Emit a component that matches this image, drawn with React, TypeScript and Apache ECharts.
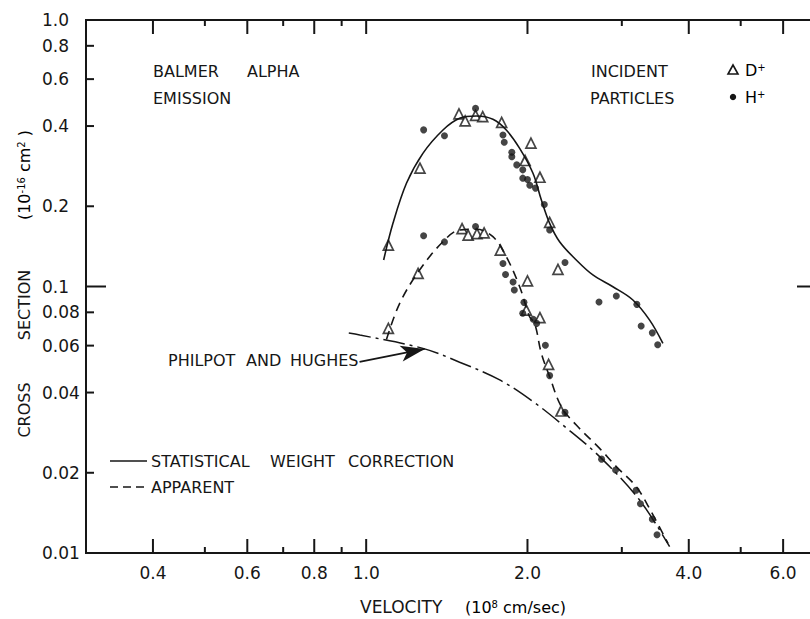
import React, { useEffect, useRef } from "react";
import * as echarts from "echarts";

// Velocity axis (10^8 cm/sec) and cross-section axis (10^-16 cm^2)
const xMajorTicks = [0.4, 0.6, 0.8, 1.0, 2.0, 4.0, 6.0];
const xMinorTicks = [0.5, 0.7, 0.9, 3.0, 5.0];
const yLabelValues = [0.01, 0.02, 0.04, 0.06, 0.08, 0.1, 0.2, 0.4, 0.6, 0.8, 1.0];
const yShortTicks = [0.02, 0.04, 0.06, 0.08, 0.2, 0.4, 0.6, 0.8];
const yLongTicks = [0.1];

// D+ measurements, statistical weight correction
const dCorrV = [1.10, 1.26, 1.49, 1.53, 1.60, 1.65, 1.79, 1.98, 2.03, 2.11, 2.20, 2.28];
const dCorrC = [0.143, 0.278, 0.444, 0.418, 0.439, 0.434, 0.413, 0.297, 0.345, 0.257, 0.174, 0.116];

// H+ measurements, statistical weight correction
const hCorrV = [1.28, 1.40, 1.60, 1.80, 1.81, 1.87, 1.87, 1.91, 1.96, 1.96, 2.00, 2.02, 2.07, 2.15, 2.20, 2.35, 2.72, 2.93, 3.20, 3.26, 3.42, 3.50];
const hCorrC = [0.387, 0.368, 0.466, 0.370, 0.348, 0.319, 0.307, 0.286, 0.274, 0.255, 0.252, 0.240, 0.234, 0.203, 0.163, 0.123, 0.0875, 0.0921, 0.0857, 0.0711, 0.067, 0.0605];

// D+ measurements, apparent
const dAppV = [1.10, 1.25, 1.51, 1.55, 1.61, 1.66, 1.78, 2.00, 1.99, 2.11, 2.19, 2.31];
const dAppC = [0.0697, 0.112, 0.165, 0.156, 0.158, 0.159, 0.137, 0.105, 0.0816, 0.0764, 0.051, 0.0341];

// H+ measurements, apparent
const hAppV = [1.28, 1.40, 1.60, 1.80, 1.82, 1.88, 1.89, 1.97, 1.96, 2.05, 2.08, 2.16, 2.20, 2.35, 2.75, 2.92, 3.19, 3.25, 3.42, 3.49];
const hAppC = [0.155, 0.147, 0.168, 0.122, 0.111, 0.104, 0.097, 0.0872, 0.0794, 0.0753, 0.0727, 0.0602, 0.0463, 0.0337, 0.0225, 0.0205, 0.0172, 0.0153, 0.0134, 0.0117];

// Fitted curves
const corrCurveV = [1.078, 1.122, 1.189, 1.276, 1.391, 1.494, 1.606, 1.724, 1.826, 1.934, 2.048, 2.123, 2.20, 2.296, 2.467, 2.649, 2.887, 3.146, 3.381, 3.579];
const corrCurveC = [0.1257, 0.1726, 0.2439, 0.316, 0.3867, 0.4277, 0.4362, 0.424, 0.3867, 0.330, 0.266, 0.2112, 0.1726, 0.1473, 0.1257, 0.1105, 0.0998, 0.089, 0.0748, 0.0612];

const appCurveV = [1.091, 1.155, 1.258, 1.391, 1.494, 1.606, 1.724, 1.826, 1.934, 2.018, 2.063, 2.123, 2.20, 2.313, 2.467, 2.727, 2.929, 3.192, 3.404, 3.658];
const appCurveC = [0.0633, 0.0865, 0.1153, 0.1473, 0.163, 0.1639, 0.1538, 0.1294, 0.0998, 0.077, 0.0727, 0.0561, 0.0459, 0.0354, 0.0302, 0.0247, 0.0211, 0.01773, 0.01429, 0.01087];

// Philpot and Hughes
const phCurveV = [0.928, 0.973, 1.276, 1.494, 1.775, 2.048, 2.329, 2.727, 3.238, 3.684];
const phCurveC = [0.0669, 0.0658, 0.0586, 0.052, 0.0446, 0.037, 0.0302, 0.023, 0.0158, 0.01056];

// Annotation arrow (from label to curve)
const arrowV = [0.972, 1.286];
const arrowC = [0.0521, 0.0583];

const X_MIN = 0.3;
const X_MAX = 7;
const Y_MIN = 0.01;
const Y_MAX = 1.0;

const CHART_W = 830;
const CHART_H = 619;

const INK = "#161616";
const FONT = "DejaVu Sans";

const zip = (a: number[], b: number[]) => a.map((v, i) => [v, b[i]]);

const fmt = (v: number) => {
  const r = Number(Number(v).toPrecision(2));
  return r >= 1 ? r.toFixed(1) : String(r);
};

const txt = (x: number, y: number, text: string, size = 16) => ({
  type: "text",
  x,
  y,
  style: { text, fill: INK, font: `${size}px "${FONT}"`, align: "left", verticalAlign: "middle" },
});

const vtxt = (y: number, text: string, rich?: any) => ({
  type: "text",
  x: 24,
  y,
  rotation: Math.PI / 2,
  style: rich
    ? { text, rich, align: "center", verticalAlign: "middle" }
    : { text, fill: INK, font: `16px "${FONT}"`, align: "center", verticalAlign: "middle" },
});

const supRich = {
  t: { fontSize: 16, fontFamily: FONT, color: INK },
  s: { fontSize: 10, fontFamily: FONT, color: INK, verticalAlign: "top" },
};

const labelGraphics = [
  txt(153, 71, "BALMER"),
  txt(247, 71, "ALPHA"),
  txt(153, 98, "EMISSION"),
  txt(591, 71, "INCIDENT"),
  txt(590, 98, "PARTICLES"),
  {
    type: "polygon",
    shape: { points: [[733, 65], [728, 74], [738, 74]] },
    style: { fill: "#fff", stroke: INK, lineWidth: 1.6 },
  },
  { type: "text", x: 745, y: 70, style: { text: "{t|D}{s|+}", rich: supRich, align: "left", verticalAlign: "middle" } },
  { type: "circle", shape: { cx: 733, cy: 97, r: 3.2 }, style: { fill: INK } },
  { type: "text", x: 745, y: 97, style: { text: "{t|H}{s|+}", rich: supRich, align: "left", verticalAlign: "middle" } },
  txt(168, 360, "PHILPOT"),
  txt(246, 360, "AND"),
  txt(290, 360, "HUGHES"),
  { type: "line", shape: { x1: 110, y1: 461, x2: 147, y2: 461 }, style: { stroke: INK, lineWidth: 1.6 } },
  txt(151, 461, "STATISTICAL"),
  txt(270, 461, "WEIGHT"),
  txt(348, 461, "CORRECTION"),
  { type: "line", shape: { x1: 110, y1: 487, x2: 147, y2: 487 }, style: { stroke: INK, lineWidth: 1.6, lineDash: [8, 5] } },
  txt(151, 487, "APPARENT"),
  txt(360, 607, "VELOCITY", 17),
  {
    type: "text",
    x: 465,
    y: 607,
    style: {
      text: "{t|(10}{s|8}{t|\u00a0cm/sec)}",
      rich: supRich,
      align: "left",
      verticalAlign: "middle",
    },
  },
  vtxt(410, "CROSS"),
  vtxt(305, "SECTION"),
  vtxt(175, "{t|(10}{s|-16}{t|\u00a0cm}{s|2}{t|\u00a0)}", supRich),
];

export default function App() {
  const ref = useRef<HTMLDivElement>(null);

  useEffect(() => {
    if (!ref.current) return;
    const chart = echarts.init(ref.current, undefined, { renderer: "svg" });

    chart.setOption({
      animation: false,
      backgroundColor: "#ffffff",
      grid: {
        left: 86,
        top: 20,
        right: 11,
        bottom: 66,
        show: true,
        borderColor: INK,
        borderWidth: 2,
        backgroundColor: "transparent",
      },
      xAxis: {
        type: "log",
        logBase: 10,
        min: X_MIN,
        max: X_MAX,
        splitLine: { show: false },
        minorTick: { show: false },
        axisLine: { show: false },
        axisTick: { show: false },
        axisLabel: { customValues: xMajorTicks, formatter: fmt, margin: 11, color: INK, fontSize: 17, fontFamily: FONT },
      },
      yAxis: {
        type: "log",
        logBase: 10,
        min: Y_MIN,
        max: Y_MAX,
        splitLine: { show: false },
        minorTick: { show: false },
        axisLine: { show: false },
        axisTick: { show: false },
        axisLabel: { customValues: yLabelValues, formatter: fmt, margin: 44, align: "left", color: INK, fontSize: 17, fontFamily: FONT },
      },
      series: [
        {
          name: "STATISTICAL WEIGHT CORRECTION",
          type: "line",
          data: zip(corrCurveV, corrCurveC),
          smooth: 0.35,
          showSymbol: false,
          lineStyle: { color: INK, width: 1.6 },
        },
        {
          name: "APPARENT",
          type: "line",
          data: zip(appCurveV, appCurveC),
          smooth: 0.35,
          showSymbol: false,
          lineStyle: { color: INK, width: 1.6, type: [9, 6] },
        },
        {
          name: "PHILPOT AND HUGHES",
          type: "line",
          data: zip(phCurveV, phCurveC),
          smooth: 0.35,
          showSymbol: false,
          lineStyle: { color: INK, width: 1.5, type: [22, 5, 3, 5] },
          markLine: {
            symbol: ["none", "arrow"],
            symbolSize: [12, 24],
            label: { show: false },
            lineStyle: { color: INK, width: 1.8, type: "solid" },
            itemStyle: { color: INK },
            data: [[{ coord: [arrowV[0], arrowC[0]] }, { coord: [arrowV[1], arrowC[1]] }]],
          },
        },
        {
          name: "D+ corrected",
          type: "scatter",
          data: zip(dCorrV, dCorrC),
          symbol: "triangle",
          symbolSize: 10,
          itemStyle: { color: "#ffffff", borderColor: INK, borderWidth: 1.7 },
        },
        {
          name: "D+ apparent",
          type: "scatter",
          data: zip(dAppV, dAppC),
          symbol: "triangle",
          symbolSize: 10,
          itemStyle: { color: "#ffffff", borderColor: INK, borderWidth: 1.7 },
        },
        {
          name: "H+ corrected",
          type: "scatter",
          data: zip(hCorrV, hCorrC),
          symbol: "circle",
          symbolSize: 7,
          itemStyle: { color: INK },
        },
        {
          name: "H+ apparent",
          type: "scatter",
          data: zip(hAppV, hAppC),
          symbol: "circle",
          symbolSize: 7,
          itemStyle: { color: INK },
        },
      ],
    });

    // Inward frame ticks, positioned through the chart's own scales
    const toPx = (v: number[]) => chart.convertToPixel({ gridIndex: 0 }, v) as number[];
    const tickLine = (x1: number, y1: number, x2: number, y2: number) => ({
      type: "line",
      z: 50,
      shape: { x1, y1, x2, y2 },
      style: { stroke: INK, lineWidth: 2 },
    });
    const ticks: any[] = [];
    const addX = (vals: number[], len: number) =>
      vals.forEach((v) => {
        const b = toPx([v, Y_MIN]);
        const t = toPx([v, Y_MAX]);
        ticks.push(tickLine(b[0], b[1], b[0], b[1] - len));
        ticks.push(tickLine(t[0], t[1], t[0], t[1] + len));
      });
    const addY = (vals: number[], leftLen: number, rightLen: number) =>
      vals.forEach((v) => {
        const l = toPx([X_MIN, v]);
        const r = toPx([X_MAX, v]);
        ticks.push(tickLine(l[0], l[1], l[0] + leftLen, l[1]));
        ticks.push(tickLine(r[0], r[1], r[0] - rightLen, r[1]));
      });
    addX(xMajorTicks, 14);
    addX(xMinorTicks, 6);
    addY(yShortTicks, 8, 9);
    addY(yLongTicks, 20, 22);

    chart.setOption({ graphic: [...labelGraphics, ...ticks] });

    return () => chart.dispose();
  }, []);

  return (
    <div style={{ position: "fixed", left: 0, top: 0, width: 810, height: 619, overflow: "hidden", background: "#fff" }}>
      <div ref={ref} style={{ width: CHART_W, height: CHART_H }} />
    </div>
  );
}
